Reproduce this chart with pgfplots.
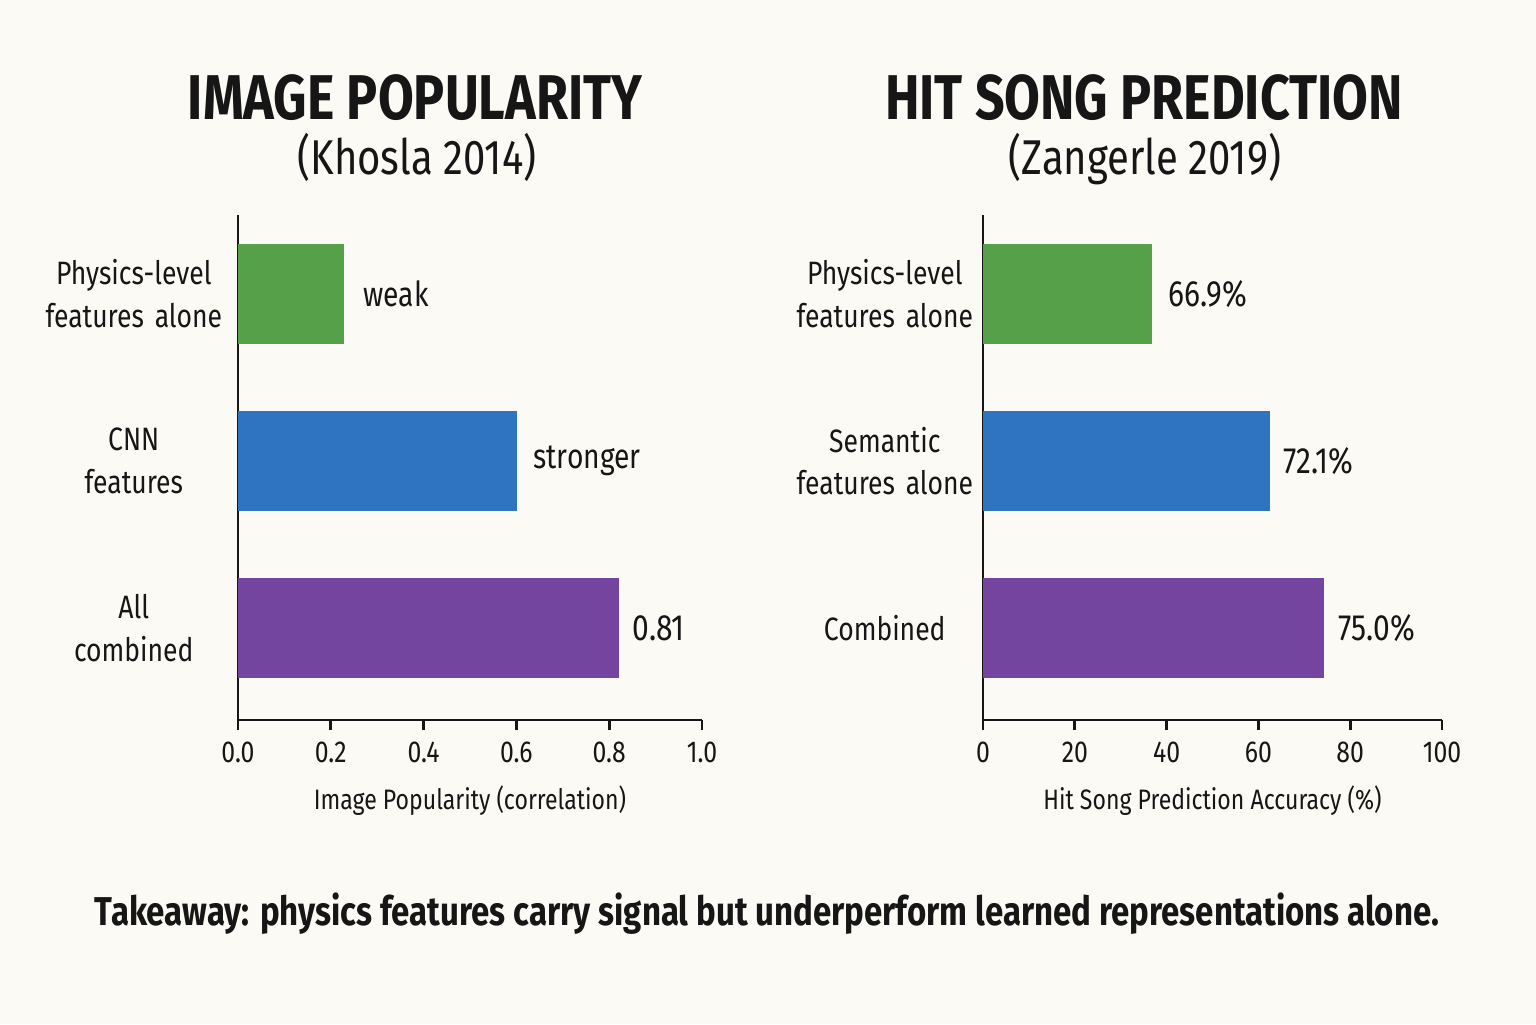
\documentclass[border=0pt]{standalone}
\usepackage{pgfplots}
\pgfplotsset{compat=1.18}
\usepackage{fontspec}
\setmainfont{Fira Sans}[FakeStretch=0.82]
\definecolor{bgc}{HTML}{FBFAF5}
\definecolor{gbar}{HTML}{57A04A}
\definecolor{bbar}{HTML}{2F74C1}
\definecolor{pbar}{HTML}{74459E}
\definecolor{txt}{HTML}{161616}
\newcommand{\fcat}{\fontsize{9.2}{12}\selectfont}
\newcommand{\fval}{\fontsize{10.4}{13}\selectfont}
\newcommand{\fword}{\fontsize{9.8}{13}\selectfont}
\newcommand{\ftick}{\fontsize{8.6}{10}\selectfont}
\newcommand{\flab}{\fontsize{8.0}{10}\selectfont}
\pgfplotsset{
  panel/.style={
    scale only axis, anchor=south west,
    height=5.05cm, ymin=-0.55, ymax=2.47,
    axis x line*=bottom, axis y line*=left,
    axis line style={line width=0.75pt, txt},
    tick align=outside, major tick length=0.1cm,
    xtick style={line width=0.75pt, txt},
    ytick={0,1,2}, ytick style={draw=none},
    yticklabel style={text width=1.8cm, inner xsep=1pt, align=center, font=\fcat, text=txt},
    xticklabel style={font=\ftick, text=txt, /pgf/number format/assume math mode=true},
    xlabel style={font=\flab, text=txt, yshift=0.5pt},
    xbar, bar width=1cm, clip=false,
  }
}
\begin{document}
\begin{tikzpicture}
\fill[bgc] (0,0) rectangle (15.36,10.24);
% titles
\node[anchor=base, font=\fontsize{18}{20}\selectfont\bfseries, text=txt] at (4.15,9.04) {IMAGE POPULARITY};
\node[anchor=base, font=\fontsize{13.9}{15}\selectfont, text=txt] at (4.17,8.49) {(Khosla 2014)};
\node[anchor=base, font=\fontsize{18}{20}\selectfont\bfseries, text=txt] at (11.44,9.04) {HIT SONG PREDICTION};
\node[anchor=base, font=\fontsize{13.9}{15}\selectfont, text=txt] at (11.45,8.49) {(Zangerle 2019)};
\begin{axis}[panel, at={(2.38cm,3.04cm)}, width=4.64cm,
  xmin=0, xmax=1, xtick={0,0.2,0.4,0.6,0.8,1},
  xticklabel style={/pgf/number format/.cd, fixed, fixed zerofill, precision=1},
  yticklabels={{All\\combined},{CNN\\features},{Physics-level\\features alone}},
  xlabel={Image Popularity (correlation)}]
\addplot[fill=gbar, draw=none, bar shift=0pt] coordinates {(0.228,2)};
\addplot[fill=bbar, draw=none, bar shift=0pt] coordinates {(0.601,1)};
\addplot[fill=pbar, draw=none, bar shift=0pt] coordinates {(0.821,0)};
\node[anchor=west, font=\fword, text=txt, inner sep=0pt, xshift=0.19cm] at (axis cs:0.228,2) {weak};
\node[anchor=west, font=\fword, text=txt, inner sep=0pt, xshift=0.16cm] at (axis cs:0.601,1) {stronger};
\node[anchor=west, font=\fval, text=txt, inner sep=0pt, xshift=0.13cm] at (axis cs:0.821,0) {0.81};
\end{axis}
\begin{axis}[panel, at={(9.83cm,3.04cm)}, width=4.59cm,
  xmin=0, xmax=100, xtick={0,20,40,60,80,100},
  yticklabel style={xshift=0.06cm},
  yticklabels={{Combined},{Semantic\\features alone},{Physics-level\\features alone}},
  xlabel={Hit Song Prediction Accuracy (\%)}]
\addplot[fill=gbar, draw=none, bar shift=0pt] coordinates {(36.8,2)};
\addplot[fill=bbar, draw=none, bar shift=0pt] coordinates {(62.5,1)};
\addplot[fill=pbar, draw=none, bar shift=0pt] coordinates {(74.3,0)};
\node[anchor=west, font=\fval, text=txt, inner sep=0pt, xshift=0.16cm] at (axis cs:36.8,2) {66.9\%};
\node[anchor=west, font=\fval, text=txt, inner sep=0pt, xshift=0.13cm] at (axis cs:62.5,1) {72.1\%};
\node[anchor=west, font=\fval, text=txt, inner sep=0pt, xshift=0.14cm] at (axis cs:74.3,0) {75.0\%};
\end{axis}
\node[anchor=base, font=\fontsize{11.45}{14}\selectfont\bfseries, text=txt] at (7.67,0.99) {Takeaway: physics features carry signal but underperform learned representations alone.};
\end{tikzpicture}
\end{document}
